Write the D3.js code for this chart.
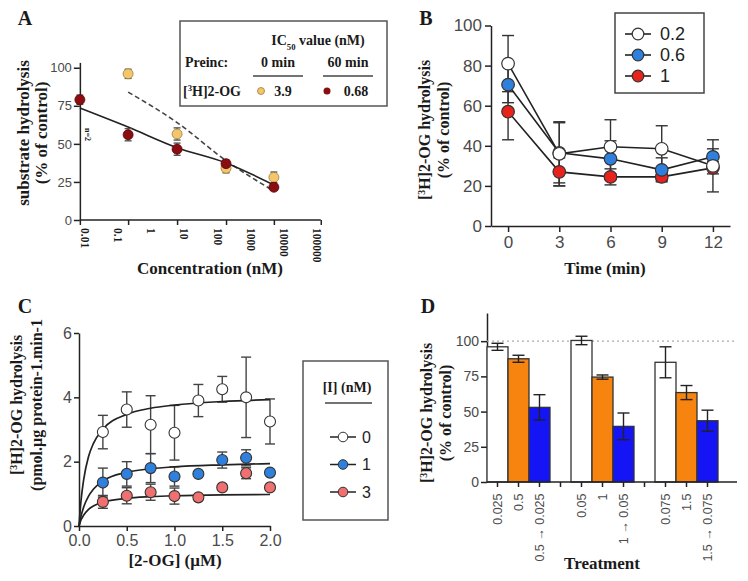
<!DOCTYPE html>
<html>
<head>
<meta charset="utf-8">
<script src="https://cdn.jsdelivr.net/npm/d3@7"></script>
<style>
  body { margin: 0; background: #fff; }
  .lab { font-family: "Liberation Serif", "Times New Roman", serif; font-weight: bold; fill: #1a1a1a; }
  .tick text { font-family: "Liberation Sans", Arial, sans-serif; fill: #4a4a4a; }
  .leg { font-family: "Liberation Sans", Arial, sans-serif; fill: #222; }
</style>
</head>
<body>
<svg id="fig" width="748" height="581"></svg>
<script>
// ---------- Panel A data ----------
var concA = [0.007, 0.2, 6, 180, 5000];
var conc0min = [null, 96, 56.5, 34, 28];
var conc0minErr = [null, 3, 4, 3, 3.5];
var conc60min = [79, 56, 46.5, 37, 21.5];
var conc60minErr = [3, 4, 4, 2.5, 2];
var fit0min = [[0.2, 84], [6, 64], [180, 39], [5000, 19]];
var fit60min = [[0.007, 73.5], [0.2, 61], [6, 47.5], [180, 37.5], [5000, 23]];
var decadeLabels = [0.01, 0.1, 1, 10, 100, 1000, 10000, 100000];
var tickMarksA = [0.007, 0.2, 6, 180, 5000, 130000];
var yTicksA = [0, 25, 50, 75, 100];

// ---------- Panel B data ----------
var timesB = [0, 3, 6, 9, 12];
var seriesB = ["0.2", "0.6", "1"];
var b02 = [81, 36, 39.5, 38.5, 30];
var b02Err = [14, 16, 13.5, 11.5, 13];
var b06 = [70.5, 36.5, 33.5, 28, 34.5];
var b06Err = [9, 15, 9, 6, 4];
var b1 = [57, 27, 24.5, 24.5, 29];
var b1Err = [14, 7, 4, 2, 3];
var yTicksB = [0, 20, 40, 60, 80, 100];

// ---------- Panel C data ----------
var ogC = [0.25, 0.5, 0.75, 1.0, 1.25, 1.5, 1.75, 2.0];
var seriesC = ["0", "1", "3"];
var c0 = [2.92, 3.62, 3.15, 2.9, 3.9, 4.25, 4.0, 3.25];
var c0Err = [0.52, 0.55, 0.9, 0.85, 0.5, 0.4, 1.25, 0.7];
var c1 = [1.35, 1.62, 1.8, 1.54, 1.62, 2.05, 2.12, 1.66];
var c1Err = [0.45, 0.38, 0.45, 0.3, 0, 0.25, 0.25, 0];
var c3 = [0.75, 0.94, 1.05, 0.93, 0.89, 1.2, 1.64, 1.2];
var c3Err = [0.2, 0.25, 0.25, 0.25, 0, 0, 0.17, 0];
var fitX = [0, 0.02, 0.05, 0.1, 0.15, 0.25, 0.5, 0.75, 1.0, 1.5, 2.0];
var fitC0 = [0, 0.75, 1.46, 2.16, 2.56, 3.01, 3.47, 3.66, 3.76, 3.87, 3.93];
var fitC1 = [0, 0.29, 0.6, 0.93, 1.14, 1.4, 1.67, 1.78, 1.84, 1.9, 1.94];
var fitC3 = [0, 0.18, 0.34, 0.52, 0.62, 0.74, 0.86, 0.91, 0.94, 0.97, 0.98];
var xTicksC = [0, 0.5, 1.0, 1.5, 2.0];
var yTicksC = [0, 2, 4, 6];

// ---------- Panel D data ----------
var treatIds = ["a1", "a2", "a3", "g1", "b1", "b2", "b3", "g2", "c1", "c2", "c3"];
var treatLabels = ["0.025", "0.5", "0.5 \u2192 0.025", "", "0.05", "1", "1 \u2192 0.05", "", "0.075", "1.5", "1.5 \u2192 0.075"];
var treatVals = [96, 87.5, 53, null, 100.5, 74.5, 39.5, null, 85, 63.5, 43.5];
var treatErr = [2.5, 2.5, 9, null, 3, 1.5, 9.5, null, 11, 5, 7.5];
var treatKind = ["w", "o", "b", "", "w", "o", "b", "", "w", "o", "b"];
var yTicksD = [0, 25, 50, 75, 100];

var svg = d3.select("#fig");

function serifText(g, x, y, size, parts, rot, anchor) {
  // parts: array of [text, "sup"|"sub"|null]
  var t = g.append("text").attr("class", "lab")
    .attr("font-size", size)
    .attr("text-anchor", anchor || "middle")
    .attr("transform", "translate(" + x + "," + y + ")" + (rot ? " rotate(" + rot + ")" : ""));
  parts.forEach(function (p) {
    var s = t.append("tspan").text(p[0]);
    if (p[1] == "sup") s.attr("font-size", size * 0.62).attr("baseline-shift", "super");
    if (p[1] == "sub") s.attr("font-size", size * 0.62).attr("baseline-shift", "sub");
  });
  return t;
}

function errBars(g, xs, ys, es, x, y, cap, color) {
  xs.forEach(function (xv, i) {
    if (ys[i] == null || !es[i]) return;
    var cx = x(xv), y1 = y(ys[i] + es[i]), y2 = y(ys[i] - es[i]);
    g.append("line").attr("x1", cx).attr("x2", cx).attr("y1", y1).attr("y2", y2)
      .attr("stroke", color).attr("stroke-width", 1.4);
    [y1, y2].forEach(function (yy) {
      g.append("line").attr("x1", cx - cap).attr("x2", cx + cap).attr("y1", yy).attr("y2", yy)
        .attr("stroke", color).attr("stroke-width", 1.4);
    });
  });
}

function styleAxis(sel, size) {
  sel.selectAll("path,line").attr("stroke", "#222").attr("stroke-width", 1.5);
  sel.selectAll("text").attr("font-size", size);
}

// ================= PANEL A =================
var gA = svg.append("g");
var xA = d3.scaleLog().domain([0.01, 100000]).range([85, 317]);
var yA = d3.scaleLinear().domain([0, 103.5]).range([220, 62.4]);

serifText(gA, 25, 25, 20, [["A"]], 0, "middle");

var yAxA = gA.append("g").attr("transform", "translate(" + xA(0.007) + ",0)")
  .call(d3.axisLeft(yA).tickValues(yTicksA).tickSize(6).tickSizeOuter(0).tickPadding(2));
styleAxis(yAxA, 13);

gA.append("line").attr("x1", xA(0.007)).attr("x2", xA(130000)).attr("y1", yA(0)).attr("y2", yA(0))
  .attr("stroke", "#222").attr("stroke-width", 1.5);
gA.append("g").attr("transform", "translate(0," + yA(0) + ")")
  .call(d3.axisBottom(xA).tickValues(tickMarksA).tickSize(5).tickFormat(""))
  .call(function (s) { s.select(".domain").remove(); s.selectAll("line").attr("stroke", "#222").attr("stroke-width", 1.5); });
gA.selectAll(".declab").data(decadeLabels).enter().append("text")
  .attr("class", "lab")
  .attr("font-size", 11.5).attr("font-weight", "normal").attr("fill", "#333")
  .attr("text-anchor", "start")
  .attr("transform", function (d) { return "translate(" + (xA(d) - 4) + "," + 228 + ") rotate(90)"; })
  .text(function (d) { return d; });

serifText(gA, 210, 274, 17, [["Concentration (nM)"]]);
serifText(gA, 29, 133, 17, [["substrate hydrolysis"]], -90);
serifText(gA, 47, 133, 17, [["(% of control)"]], -90);
gA.append("text").attr("class", "lab").attr("font-size", 8)
  .attr("transform", "translate(85,128) rotate(90)").text("n=2");

// fit lines
var lineA = d3.line().x(function (d) { return xA(d[0]); }).y(function (d) { return yA(d[1]); }).curve(d3.curveMonotoneX);
gA.append("path").attr("d", lineA(fit0min)).attr("fill", "none").attr("stroke", "#444")
  .attr("stroke-width", 1.6).attr("stroke-dasharray", "5,3");
gA.append("path").attr("d", lineA(fit60min)).attr("fill", "none").attr("stroke", "#222")
  .attr("stroke-width", 1.6);

errBars(gA, concA, conc0min, conc0minErr, xA, yA, 3.5, "#555");
errBars(gA, concA, conc60min, conc60minErr, xA, yA, 3.5, "#555");
gA.selectAll(".p0").data(concA.map(function (c, i) { return [c, conc0min[i]]; }).filter(function (d) { return d[1] != null; }))
  .enter().append("circle").attr("cx", function (d) { return xA(d[0]); }).attr("cy", function (d) { return yA(d[1]); })
  .attr("r", 5).attr("fill", "#f3c66c").attr("stroke", "#a07c3a").attr("stroke-width", 0.8);
gA.selectAll(".p60").data(concA.map(function (c, i) { return [c, conc60min[i]]; }))
  .enter().append("circle").attr("cx", function (d) { return xA(d[0]); }).attr("cy", function (d) { return yA(d[1]); })
  .attr("r", 5).attr("fill", "#8a0d12").attr("stroke", "#5a0508").attr("stroke-width", 0.8);

// legend A
gA.append("rect").attr("x", 180).attr("y", 21).attr("width", 207).attr("height", 85)
  .attr("fill", "#fff").attr("stroke", "#555").attr("stroke-width", 1.5);
serifText(gA, 318, 45, 14, [["IC"], ["50", "sub"], [" value (nM)"]]);
serifText(gA, 185, 67, 14, [["Preinc:"]], 0, "start");
serifText(gA, 278, 67, 14, [["0 min"]]);
serifText(gA, 348, 67, 14, [["60 min"]]);
gA.append("line").attr("x1", 253).attr("x2", 303).attr("y1", 76).attr("y2", 76).attr("stroke", "#444").attr("stroke-width", 1.3);
gA.append("line").attr("x1", 323).attr("x2", 373).attr("y1", 76).attr("y2", 76).attr("stroke", "#444").attr("stroke-width", 1.3);
serifText(gA, 183, 96, 14, [["["], ["3", "sup"], ["H]2-OG"]], 0, "start");
gA.append("circle").attr("cx", 261).attr("cy", 91).attr("r", 3.5).attr("fill", "#f3c66c").attr("stroke", "#a07c3a").attr("stroke-width", 0.8);
serifText(gA, 283, 96, 14, [["3.9"]]);
gA.append("circle").attr("cx", 327).attr("cy", 91).attr("r", 3.5).attr("fill", "#8a0d12");
serifText(gA, 356, 96, 14, [["0.68"]]);

// ================= PANEL B =================
var gB = svg.append("g");
var xB = d3.scaleLinear().domain([-1, 13]).range([491, 730]);
var yB = d3.scaleLinear().domain([0, 100]).range([226, 25.5]);
serifText(gB, 426, 25, 20, [["B"]]);

var xAxB = gB.append("g").attr("transform", "translate(0," + yB(0) + ")")
  .call(d3.axisBottom(xB).tickValues(timesB).tickSize(6).tickSizeOuter(0).tickPadding(4));
styleAxis(xAxB, 17);
var yAxB = gB.append("g").attr("transform", "translate(" + xB(-1) + ",0)")
  .call(d3.axisLeft(yB).tickValues(yTicksB).tickSize(6).tickSizeOuter(0).tickPadding(3));
styleAxis(yAxB, 17);

serifText(gB, 605, 274, 17, [["Time (min)"]]);
serifText(gB, 430, 130, 16, [["["], ["3", "sup"], ["H]2-OG hydrolysis"]], -90);
serifText(gB, 449, 130, 16, [["(% of control)"]], -90);

var colorsB = { "0.2": "#ffffff", "0.6": "#2f7fdc", "1": "#e8221c" };
var valsB = { "0.2": [b02, b02Err], "0.6": [b06, b06Err], "1": [b1, b1Err] };
var lineB = d3.line().x(function (d) { return xB(d[0]); }).y(function (d) { return yB(d[1]); });
["1", "0.6", "0.2"].forEach(function (k) {
  errBars(gB, timesB, valsB[k][0], valsB[k][1], xB, yB, 6, "#333");
});
["1", "0.6", "0.2"].forEach(function (k) {
  var pts = timesB.map(function (t, i) { return [t, valsB[k][0][i]]; });
  gB.append("path").attr("d", lineB(pts)).attr("fill", "none").attr("stroke", "#222").attr("stroke-width", 1.6);
});
["1", "0.6", "0.2"].forEach(function (k) {
  var pts = timesB.map(function (t, i) { return [t, valsB[k][0][i]]; });
  gB.selectAll(null).data(pts).enter().append("circle")
    .attr("cx", function (d) { return xB(d[0]); }).attr("cy", function (d) { return yB(d[1]); })
    .attr("r", 6.3).attr("fill", colorsB[k]).attr("stroke", "#333").attr("stroke-width", 1.2);
});

gB.append("rect").attr("x", 615).attr("y", 13).attr("width", 89).attr("height", 80)
  .attr("fill", "#fff").attr("stroke", "#444").attr("stroke-width", 1.5);
seriesB.forEach(function (k, i) {
  var yy = 34 + i * 21;
  gB.append("line").attr("x1", 625).attr("x2", 651).attr("y1", yy).attr("y2", yy).attr("stroke", "#222").attr("stroke-width", 1.6);
  gB.append("circle").attr("cx", 638).attr("cy", yy).attr("r", 5.8).attr("fill", colorsB[k]).attr("stroke", "#333").attr("stroke-width", 1.2);
  gB.append("text").attr("class", "leg").attr("x", 660).attr("y", yy + 6).attr("font-size", 18).text(k);
});

// ================= PANEL C =================
var gC = svg.append("g");
var xC = d3.scaleLinear().domain([0, 2]).range([79, 270]);
var yC = d3.scaleLinear().domain([0, 6]).range([526, 333]);
serifText(gC, 25, 313, 20, [["C"]]);

var xAxC = gC.append("g").attr("transform", "translate(0," + yC(0) + ")")
  .call(d3.axisBottom(xC).tickValues(xTicksC).tickFormat(d3.format(".1f")).tickSize(5).tickSizeOuter(0).tickPadding(4));
styleAxis(xAxC, 16);
var yAxC = gC.append("g").attr("transform", "translate(" + xC(0) + ",0)")
  .call(d3.axisLeft(yC).tickValues(yTicksC).tickFormat(d3.format("d")).tickSize(5).tickSizeOuter(0).tickPadding(2));
styleAxis(yAxC, 16);

serifText(gC, 175, 566, 17, [["[2-OG] (\u03bcM)"]]);
serifText(gC, 22, 405, 16, [["["], ["3", "sup"], ["H]2-OG hydrolysis"]], -90);
serifText(gC, 42, 405, 16, [["(pmol.\u03bcg protein-1.min-1"]], -90);

var colorsC = { "0": "#ffffff", "1": "#2f7fdc", "3": "#f07070" };
var valsC = { "0": [c0, c0Err, fitC0], "1": [c1, c1Err, fitC1], "3": [c3, c3Err, fitC3] };
var lineC = d3.line().x(function (d) { return xC(d[0]); }).y(function (d) { return yC(d[1]); }).curve(d3.curveMonotoneX);
["3", "1", "0"].forEach(function (k) {
  errBars(gC, ogC, valsC[k][0], valsC[k][1], xC, yC, 5, "#444");
});
["3", "1", "0"].forEach(function (k) {
  var pts = fitX.map(function (x, i) { return [x, valsC[k][2][i]]; });
  gC.append("path").attr("d", lineC(pts)).attr("fill", "none").attr("stroke", "#222").attr("stroke-width", 1.7);
});
["3", "1", "0"].forEach(function (k) {
  var pts = ogC.map(function (x, i) { return [x, valsC[k][0][i]]; });
  gC.selectAll(null).data(pts).enter().append("circle")
    .attr("cx", function (d) { return xC(d[0]); }).attr("cy", function (d) { return yC(d[1]); })
    .attr("r", 5.5).attr("fill", colorsC[k]).attr("stroke", "#333").attr("stroke-width", 1.1);
});

gC.append("rect").attr("x", 303).attr("y", 361).attr("width", 85).attr("height", 159)
  .attr("fill", "#fff").attr("stroke", "#555").attr("stroke-width", 1.5);
serifText(gC, 347, 392, 14, [["[I] (nM)"]]);
gC.append("line").attr("x1", 325).attr("x2", 372).attr("y1", 403).attr("y2", 403).attr("stroke", "#444").attr("stroke-width", 1.3);
seriesC.forEach(function (k, i) {
  var yy = 437 + i * 27.5;
  gC.append("line").attr("x1", 330).attr("x2", 356).attr("y1", yy).attr("y2", yy).attr("stroke", "#222").attr("stroke-width", 1.5);
  gC.append("circle").attr("cx", 343).attr("cy", yy).attr("r", 4.8).attr("fill", colorsC[k]).attr("stroke", "#333").attr("stroke-width", 1);
  gC.append("text").attr("class", "leg").attr("x", 362).attr("y", yy + 5.5).attr("font-size", 16).text(k);
});

// ================= PANEL D =================
var gD = svg.append("g");
var xD = d3.scaleBand().domain(treatIds).range([487, 718]).padding(0);
var yD = d3.scaleLinear().domain([0, 120]).range([482, 313]);
serifText(gD, 428, 313, 20, [["D"]]);

var yAxD = gD.append("g").attr("transform", "translate(487,0)")
  .call(d3.axisLeft(yD).tickValues(yTicksD).tickSize(6).tickSizeOuter(0).tickPadding(2));
styleAxis(yAxD, 14);

gD.append("line").attr("x1", 487).attr("x2", 737).attr("y1", yD(100)).attr("y2", yD(100))
  .attr("stroke", "#aaa").attr("stroke-width", 1.4).attr("stroke-dasharray", "2,3");

var fillD = { w: "#ffffff", o: "#f7840e", b: "#1414f5" };
treatIds.forEach(function (id, i) {
  if (treatVals[i] == null) return;
  gD.append("rect").attr("x", xD(id)).attr("y", yD(treatVals[i]))
    .attr("width", xD.bandwidth()).attr("height", yD(0) - yD(treatVals[i]))
    .attr("fill", fillD[treatKind[i]]).attr("stroke", "#333").attr("stroke-width", 1.3);
});
errBars(gD, treatIds, treatVals, treatErr, function (id) { return xD(id) + xD.bandwidth() / 2; }, yD, 6, "#222");

gD.append("line").attr("x1", 487).attr("x2", 737).attr("y1", yD(0)).attr("y2", yD(0))
  .attr("stroke", "#222").attr("stroke-width", 1.5);
var xAxD = gD.append("g").attr("transform", "translate(0," + yD(0) + ")")
  .call(d3.axisBottom(xD).tickSize(5).tickSizeOuter(0).tickFormat(function (d, i) { return treatLabels[i]; }));
xAxD.select(".domain").remove();
xAxD.selectAll("line").attr("stroke", "#222").attr("stroke-width", 1.5);
xAxD.selectAll("text").attr("font-size", 12.5)
  .attr("text-anchor", "end").attr("dy", "0.35em").attr("dx", "-0.2em")
  .attr("x", 0).attr("y", 0)
  .attr("transform", "translate(0,9) rotate(-90)");

serifText(gD, 602, 569, 17, [["Treatment"]]);
serifText(gD, 432, 413, 16, [["["], ["3", "sup"], ["H]2-OG hydrolysis"]], -90);
serifText(gD, 451, 413, 16, [["(% of control)"]], -90);
</script>
</body>
</html>
